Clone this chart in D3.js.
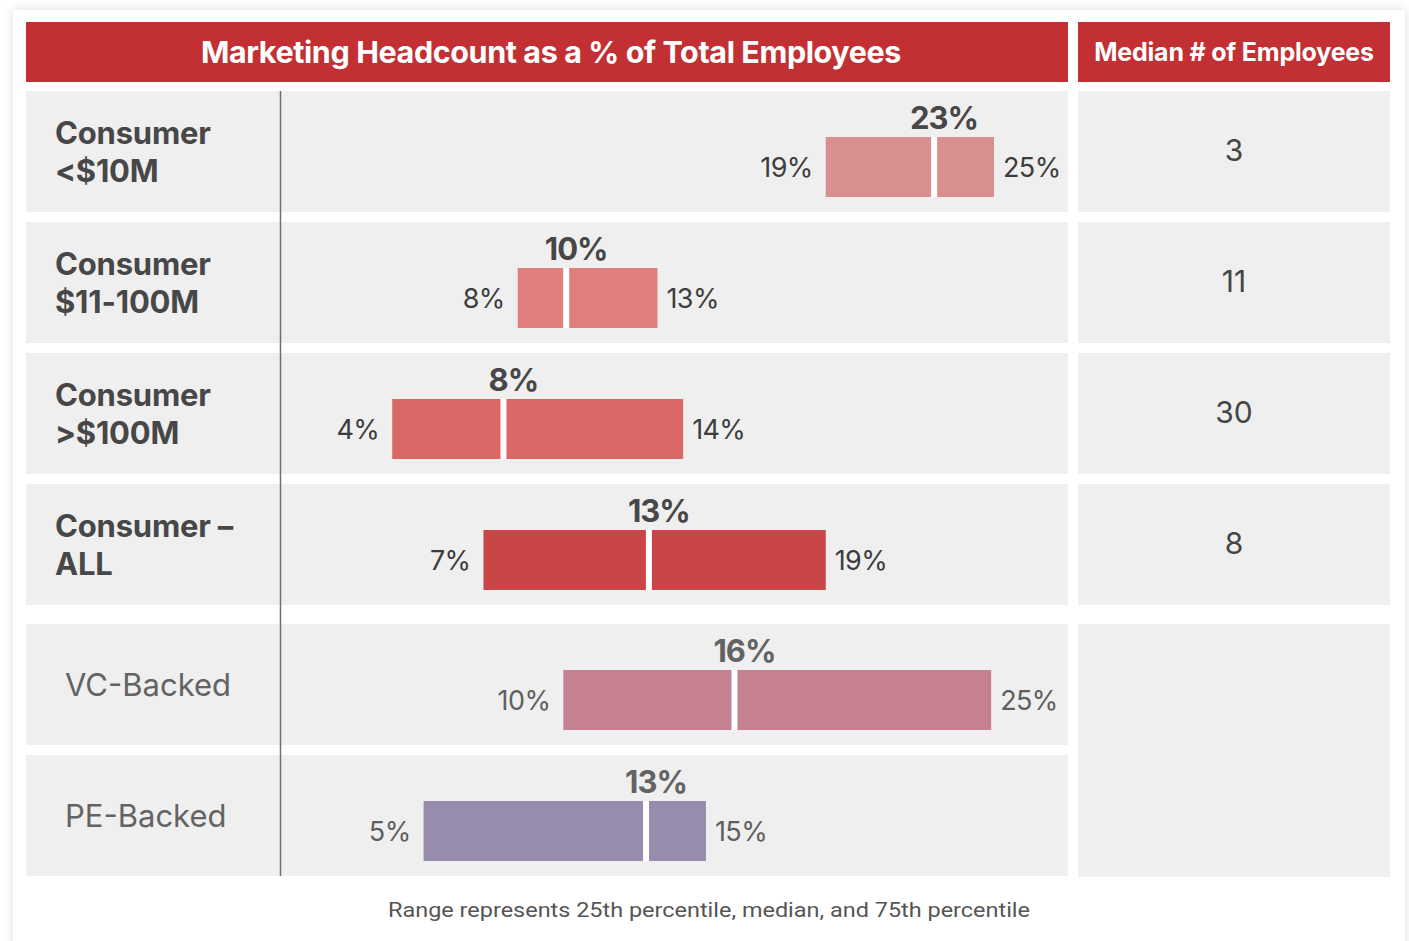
<!DOCTYPE html>
<html>
<head>
<meta charset="utf-8">
<script src="https://cdn.jsdelivr.net/npm/d3@7"></script>
<style>
  body { margin: 0; background: #ffffff; }
  svg { display: block; }
</style>
</head>
<body>
<div id="chart"></div>
<script>
// data (labels show them rounded)
const labelLines = [
  ["Consumer", "<$10M"],
  ["Consumer", "$11-100M"],
  ["Consumer", ">$100M"],
  ["Consumer \u2013", "ALL"],
  ["VC-Backed"],
  ["PE-Backed"]
];
const groups = ["consumer", "consumer", "consumer", "consumer", "backing", "backing"];
const low = [19.1, 8.3, 3.9, 7.1, 9.9, 5.0];
const median = [22.9, 10.0, 7.8, 12.9, 15.9, 12.8];
const high = [25.0, 13.2, 14.1, 19.1, 24.9, 14.9];
const employees = ["3", "11", "30", "8"];
const barColours = ["#D88F8E", "#DE7F7E", "#D96766", "#C94547", "#C5818F", "#978CAC"];

const titleText = "Marketing Headcount as a % of Total Employees";
const sideTitle = "Median # of Employees";
const footnote = "Range represents 25th percentile, median, and 75th percentile";

const width = 1409, height = 941;
const red = "#C33033", panel = "#EFEFEF";
const pct = v => Math.round(v) + "%";

const svg = d3.select("#chart").append("svg")
  .attr("width", width).attr("height", height);

const defs = svg.append("defs");
const f = defs.append("filter").attr("id", "shadow")
  .attr("x", "-5%").attr("y", "-5%").attr("width", "110%").attr("height", "110%");
f.append("feDropShadow").attr("dx", 0).attr("dy", 0).attr("stdDeviation", 5)
  .attr("flood-color", "#000").attr("flood-opacity", 0.15);

// card
svg.append("rect").attr("x", 13).attr("y", 10).attr("width", 1392).attr("height", 980)
  .attr("fill", "#fff").attr("filter", "url(#shadow)");

// layout
const rowH = 121, rowStep = 131, top0 = 91;
const rowTop = i => top0 + i * rowStep + (groups[i] === "backing" ? 9 : 0);
const plotL = 26, plotR = 1068;
const sideL = 1078, sideR = 1390;

const x = d3.scaleLinear().domain([0, 25]).range([281, 994]);

// headers
svg.append("rect").attr("x", plotL).attr("y", 22).attr("width", plotR - plotL).attr("height", 60).attr("fill", red);
svg.append("rect").attr("x", sideL).attr("y", 22).attr("width", sideR - sideL).attr("height", 60).attr("fill", red);
svg.append("text").attr("x", 551).attr("y", 63).attr("text-anchor", "middle")
  .attr("font-family", "Inter, sans-serif").attr("font-weight", 700).attr("font-size", 30.5)
  .attr("letter-spacing", -0.4).attr("fill", "#fff").text(titleText);
svg.append("text").attr("x", 1234).attr("y", 61).attr("text-anchor", "middle")
  .attr("font-family", "Inter, sans-serif").attr("font-weight", 700).attr("font-size", 25)
  .attr("letter-spacing", -0.2).attr("fill", "#fff").text(sideTitle);

const idx = d3.range(labelLines.length);

// row backgrounds
const rows = svg.append("g").selectAll("g").data(idx).join("g")
  .attr("transform", i => `translate(0,${rowTop(i)})`);

rows.append("rect").attr("x", plotL).attr("width", plotR - plotL).attr("height", rowH).attr("fill", panel);

// right column cells
svg.append("g").selectAll("rect").data(employees).join("rect")
  .attr("x", sideL).attr("y", (d, i) => rowTop(i)).attr("width", sideR - sideL).attr("height", rowH)
  .attr("fill", panel);
svg.append("rect").attr("x", sideL).attr("y", rowTop(4)).attr("width", sideR - sideL)
  .attr("height", rowTop(5) + rowH - rowTop(4) + 1).attr("fill", panel);

svg.append("g").selectAll("text").data(employees).join("text")
  .attr("x", (sideL + sideR) / 2).attr("y", (d, i) => rowTop(i) + 70)
  .attr("text-anchor", "middle").attr("font-family", "Inter, sans-serif").attr("font-size", 30)
  .attr("fill", "#454545").text(d => d);

// divider
svg.append("line").attr("x1", 280.5).attr("x2", 280.5)
  .attr("y1", rowTop(0)).attr("y2", rowTop(5) + rowH)
  .attr("stroke", "#6f6f6f").attr("stroke-width", 1.5);

// row labels
const textCol = i => groups[i] === "consumer" ? "#474747" : "#636363";
rows.each(function(i) {
  const g = d3.select(this);
  const lines = labelLines[i];
  if (lines.length === 2) {
    const t = g.append("text").attr("font-family", "Inter, sans-serif").attr("font-weight", 700)
      .attr("font-size", 31).attr("letter-spacing", -0.2).attr("fill", textCol(i));
    lines.forEach((l, k) => t.append("tspan").attr("x", 55).attr("y", 53 + k * 38).text(l));
  } else {
    g.append("text").attr("x", 65).attr("y", 72).attr("font-family", "Inter, sans-serif")
      .attr("font-size", 31).attr("fill", textCol(i)).text(lines[0]);
  }
});

// bars
const barY = 46, barH = 60;
rows.append("rect")
  .attr("x", i => x(low[i])).attr("y", barY)
  .attr("width", i => x(high[i]) - x(low[i])).attr("height", barH)
  .attr("fill", i => barColours[i]);
rows.append("rect")
  .attr("x", i => x(median[i]) - 3).attr("y", barY).attr("width", 6).attr("height", barH)
  .attr("fill", "#fff");

rows.append("text")
  .attr("x", i => x(median[i]) + 10).attr("y", barY - 8)
  .attr("text-anchor", "middle").attr("font-family", "Inter, sans-serif").attr("font-weight", 700)
  .attr("font-size", 31).attr("letter-spacing", -1).attr("fill", textCol)
  .text(i => pct(median[i]));
rows.append("text")
  .attr("x", i => x(low[i]) - 13).attr("y", barY + barH / 2 + 10)
  .attr("text-anchor", "end").attr("font-family", "Inter, sans-serif")
  .attr("font-size", 27).attr("letter-spacing", -0.6).attr("fill", i => groups[i] === "consumer" ? "#3d3d3d" : "#5f5f5f")
  .text(i => pct(low[i]));
rows.append("text")
  .attr("x", i => x(high[i]) + 9).attr("y", barY + barH / 2 + 10)
  .attr("text-anchor", "start").attr("font-family", "Inter, sans-serif")
  .attr("font-size", 27).attr("letter-spacing", -0.6).attr("fill", i => groups[i] === "consumer" ? "#3d3d3d" : "#5f5f5f")
  .text(i => pct(high[i]));

// footnote
svg.append("text").attr("x", 709).attr("y", 917).attr("text-anchor", "middle")
  .attr("font-family", "Roboto, sans-serif").attr("font-size", 21).attr("fill", "#555")
  .attr("textLength", 642).attr("lengthAdjust", "spacingAndGlyphs")
  .text(footnote);
</script>
</body>
</html>
